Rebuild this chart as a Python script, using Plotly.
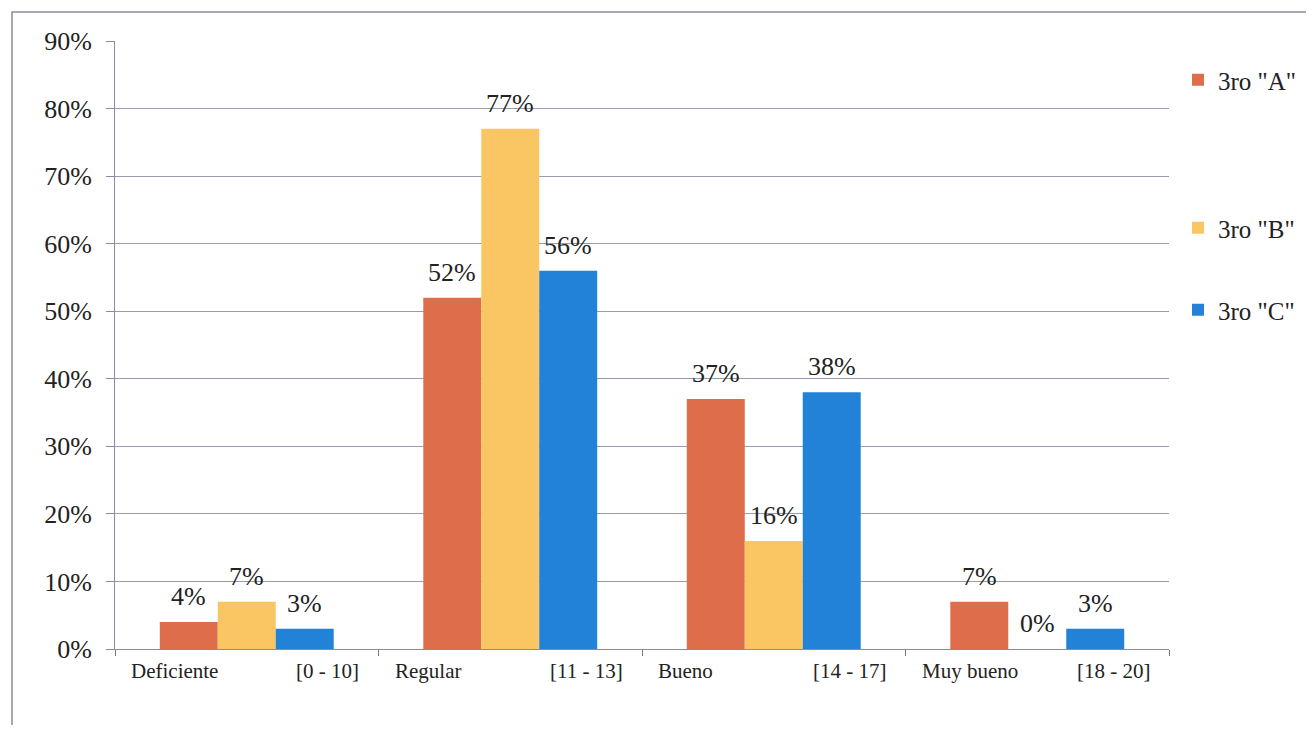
import plotly.graph_objects as go

categories = ["Deficiente", "Regular", "Bueno", "Muy bueno"]
ranges = ["[0 - 10]", "[11 - 13]", "[14 - 17]", "[18 - 20]"]
series_names = ['3ro "A"', '3ro "B"', '3ro "C"']
values_a = [4, 52, 37, 7]
values_b = [7, 77, 16, 0]
values_c = [3, 56, 38, 3]
series_values = [values_a, values_b, values_c]
colors = ["#DE6E4B", "#F9C663", "#2182D8"]
y_ticks = [0, 10, 20, 30, 40, 50, 60, 70, 80, 90]

FONT = "'Liberation Serif', 'Times New Roman', 'DejaVu Serif', serif"
BARGAP = 0.34
OFF = 8  # page body margin
W, H = 1314 - 2 * OFF, 733 - 2 * OFF
ML = 115 - OFF
MR = W - (1169 - OFF)
MT = 41 - OFF
MB = H - (649 - OFF)

x_idx = list(range(len(categories)))
fig = go.Figure()
legend_names = ["legend", "legend2", "legend3"]
for k, (name, vals, col) in enumerate(zip(series_names, series_values, colors)):
    fig.add_trace(go.Bar(
        x=x_idx, y=[v / 100 for v in vals], name=name,
        marker=dict(color=col, line=dict(width=0)),
        legend=legend_names[k],
    ))

bar_w = (1 - BARGAP) / len(series_names)
annotations = []
for k, vals in enumerate(series_values):
    off = (k - (len(series_names) - 1) / 2) * bar_w
    for i, v in enumerate(vals):
        annotations.append(dict(
            x=i + off, y=v / 100, xref="x", yref="y", text=f"{v}%",
            showarrow=False, yanchor="bottom", yshift=9,
            font=dict(family=FONT, size=26, color="#222"),
        ))
for i, (c, r) in enumerate(zip(categories, ranges)):
    annotations.append(dict(x=i - 0.445, y=0, xref="x", yref="paper", text=c,
                            showarrow=False, xanchor="left", yanchor="top", yshift=-8,
                            font=dict(family=FONT, size=21, color="#222")))
    annotations.append(dict(x=i + 0.435, y=0, xref="x", yref="paper", text=r,
                            showarrow=False, xanchor="right", yanchor="top", yshift=-8,
                            font=dict(family=FONT, size=21, color="#222")))

ph = H - MT - MB
pw = W - ML - MR
legend_y_px = [80, 228, 310]
legend_common = dict(xanchor="left", yanchor="middle", x=(1178 - OFF - ML) / pw,
                     font=dict(family=FONT, size=25, color="#222"),
                     bgcolor="rgba(0,0,0,0)", itemwidth=30)

layout_legends = {}
for name, ypx in zip(legend_names, legend_y_px):
    layout_legends[name] = dict(legend_common, y=(H - MB - (ypx - OFF)) / ph)

fig.update_layout(
    width=W, height=H,
    margin=dict(l=ML, r=MR, t=MT, b=MB, autoexpand=False),
    paper_bgcolor="white", plot_bgcolor="white",
    barmode="group", bargap=BARGAP, bargroupgap=0,
    showlegend=True,
    annotations=annotations,
    shapes=[dict(type="rect", xref="paper", yref="paper",
                 x0=(12 - OFF - ML) / pw, x1=(1340 - ML) / pw,
                 y0=(H - MB - 760) / ph, y1=(H - MB - (12 - OFF)) / ph,
                 line=dict(color="#8C8C9C", width=1.5), fillcolor="rgba(0,0,0,0)")],
    xaxis=dict(range=[-0.5, len(categories) - 0.5], tickvals=[i - 0.5 for i in range(len(categories) + 1)],
               showticklabels=False, ticks="outside", ticklen=6, tickcolor="#777",
               showgrid=False, zeroline=False, showline=True, linecolor="#8A8AA0", linewidth=1),
    yaxis=dict(range=[0, 0.9], tickvals=[t / 100 for t in y_ticks],
               ticktext=[f"{t}%" for t in y_ticks], ticks="outside", ticklen=8, tickcolor="#8A8AA0",
               showgrid=True, gridcolor="#9A9AB2", gridwidth=1, zeroline=False,
               showline=True, linecolor="#8A8AA0", linewidth=1,
               tickfont=dict(family=FONT, size=26, color="#222"), ticklabelstandoff=9),
    font=dict(family=FONT),
    **layout_legends,
)
fig.write_html("out.html")
